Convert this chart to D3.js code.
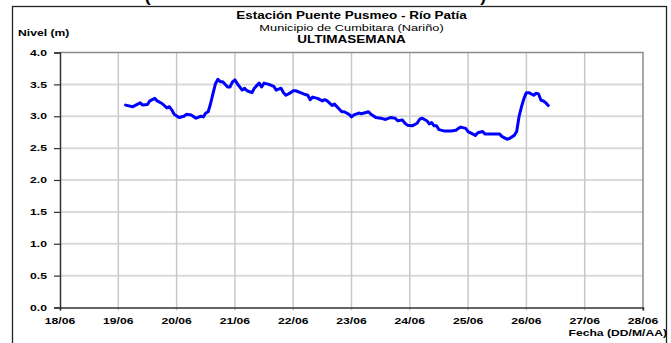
<!DOCTYPE html>
<html>
<head>
<meta charset="utf-8">
<script src="https://cdn.jsdelivr.net/npm/d3@7/dist/d3.min.js"></script>
<style>
  html, body { margin: 0; padding: 0; background: #fff; }
  svg { display: block; font-family: "Liberation Sans", Arial, sans-serif; }
</style>
</head>
<body>
<svg id="chart" width="671" height="343"></svg>
<script>
// Hourly water level readings, Puente Pusmeo station (Río Patía)
const fechas = [
  "19/06 03:00","19/06 06:00","19/06 09:00","19/06 10:00","19/06 12:00","19/06 13:00","19/06 15:00","19/06 16:00",
  "19/06 18:00","19/06 20:00","19/06 21:00","19/06 22:00","19/06 23:00","20/06 01:00","20/06 03:00","20/06 04:00",
  "20/06 06:00","20/06 08:00","20/06 10:00","20/06 11:00","20/06 12:00","20/06 13:00","20/06 14:00","20/06 15:00",
  "20/06 16:00","20/06 17:00","20/06 18:00","20/06 19:00","20/06 21:00","20/06 22:00","20/06 23:00","21/06 00:00",
  "21/06 01:00","21/06 03:00","21/06 04:00","21/06 05:00","21/06 07:00","21/06 08:00","21/06 10:00","21/06 11:00",
  "21/06 12:00","21/06 14:00","21/06 16:00","21/06 17:00","21/06 19:00","21/06 20:00","21/06 21:00","21/06 23:00",
  "22/06 00:00","22/06 01:00","22/06 03:00","22/06 05:00","22/06 06:00","22/06 07:00","22/06 08:00","22/06 10:00",
  "22/06 12:00","22/06 13:00","22/06 14:00","22/06 16:00","22/06 17:00","22/06 19:00","22/06 20:00","22/06 21:00",
  "22/06 23:00","23/06 00:00","23/06 01:00","23/06 03:00","23/06 04:00","23/06 06:00","23/06 07:00","23/06 08:00",
  "23/06 10:00","23/06 12:00","23/06 14:00","23/06 16:00","23/06 18:00","23/06 19:00","23/06 21:00","23/06 22:00",
  "23/06 23:00","24/06 01:00","24/06 03:00","24/06 04:00","24/06 05:00","24/06 07:00","24/06 08:00","24/06 09:00",
  "24/06 10:00","24/06 11:00","24/06 12:00","24/06 14:00","24/06 17:00","24/06 19:00","24/06 20:00","24/06 21:00",
  "24/06 23:00","25/06 00:00","25/06 02:00","25/06 03:00","25/06 04:00","25/06 06:00","25/06 07:00","25/06 09:00",
  "25/06 11:00","25/06 13:00","25/06 14:00","25/06 16:00","25/06 17:00","25/06 19:00","25/06 20:00","25/06 21:00",
  "25/06 22:00","25/06 23:00","26/06 00:00","26/06 01:00","26/06 03:00","26/06 04:00","26/06 05:00","26/06 06:00",
  "26/06 07:00","26/06 08:00","26/06 09:00"
];
const niveles = [
  3.175,3.15,3.21,3.175,3.185,3.24,3.28,3.24,
  3.20,3.13,3.15,3.10,3.03,2.98,3.00,3.03,
  3.02,2.97,3.00,2.99,3.05,3.07,3.20,3.36,
  3.51,3.58,3.54,3.54,3.46,3.46,3.54,3.57,
  3.51,3.41,3.44,3.40,3.37,3.44,3.52,3.46,
  3.52,3.50,3.47,3.41,3.44,3.37,3.33,3.37,
  3.40,3.40,3.37,3.34,3.33,3.26,3.30,3.28,
  3.24,3.26,3.24,3.17,3.19,3.11,3.07,3.07,
  3.03,2.99,3.02,3.05,3.04,3.06,3.07,3.03,
  2.98,2.97,2.95,2.98,2.97,2.93,2.94,2.89,
  2.86,2.85,2.89,2.95,2.97,2.93,2.88,2.90,
  2.85,2.85,2.79,2.77,2.77,2.78,2.81,2.83,
  2.81,2.76,2.72,2.70,2.74,2.76,2.72,2.72,
  2.72,2.72,2.68,2.64,2.65,2.70,2.76,3.00,
  3.15,3.28,3.37,3.37,3.33,3.36,3.35,3.25,
  3.24,3.21,3.17
];
const diasEje = ["18/06","19/06","20/06","21/06","22/06","23/06","24/06","25/06","26/06","27/06","28/06"];
const nivelesEje = [0.0, 0.5, 1.0, 1.5, 2.0, 2.5, 3.0, 3.5, 4.0];

const titulo = "Estación Puente Pusmeo - Río Patía";
const subtitulo = "Municipio de Cumbitara (Nariño)";
const periodo = "ULTIMASEMANA";
const tituloY = "Nivel (m)";
const tituloX = "Fecha (DD/M/AA)";

const parse = d3.timeParse("%d/%m %H:%M");
const parseDia = d3.timeParse("%d/%m");
const datos = fechas.map((f, i) => ({ t: parse(f), v: niveles[i] }));
const dias = diasEje.map(d => parseDia(d));

const svg = d3.select("#chart");
const m = { left: 60, right: 643, top: 52.5, bottom: 307.5 };
const SX = 1.35; // horizontal stretch of the lettering

const x = d3.scaleTime().domain([dias[0], dias[dias.length - 1]]).range([m.left, m.right]);
const y = d3.scaleLinear().domain([0, 4]).range([m.bottom, m.top]);

function label(px, py, str, opts) {
  const o = Object.assign({ size: 9, weight: "bold", anchor: "middle" }, opts || {});
  return svg.append("text")
    .attr("transform", `translate(${px},${py}) scale(${SX},1)`)
    .attr("text-anchor", o.anchor)
    .attr("font-size", o.size)
    .attr("font-weight", o.weight)
    .attr("fill", "#000")
    .text(str);
}

// outer chart frame
svg.append("rect")
  .attr("x", 12.5).attr("y", 6.5).attr("width", 654).attr("height", 350)
  .attr("fill", "none").attr("stroke", "#222").attr("stroke-width", 1.3);

// heading above the frame, clipped by the page top
label(148, 2, "(", { size: 13 });
label(483, 2, ")", { size: 13 });

// horizontal gridlines
svg.append("g").selectAll("line")
  .data(nivelesEje.filter(v => v > 0 && v < 4))
  .join("line")
  .attr("x1", m.left).attr("x2", m.right)
  .attr("y1", d => y(d)).attr("y2", d => y(d))
  .attr("stroke", "#d9d9d9").attr("stroke-width", 2);

// vertical gridlines (extend slightly below the axis as tick marks)
svg.append("g").selectAll("line")
  .data(dias.slice(1, -1))
  .join("line")
  .attr("x1", d => x(d)).attr("x2", d => x(d))
  .attr("y1", m.top).attr("y2", m.bottom + 3)
  .attr("stroke", "#c8c8c8").attr("stroke-width", 1.5);

// top and right plot borders
svg.append("path")
  .attr("d", `M${m.left},${m.top}H${m.right}V${m.bottom + 3}`)
  .attr("fill", "none").attr("stroke", "#8c8c8c").attr("stroke-width", 1.5);

// y axis
const yAxis = svg.append("g")
  .attr("transform", `translate(${m.left},0)`)
  .call(d3.axisLeft(y).tickValues(nivelesEje).tickSize(6).tickFormat(""));
yAxis.select(".domain").attr("stroke", "#333").attr("stroke-width", 1.5);
yAxis.selectAll(".tick line").attr("stroke", "#333").attr("stroke-width", 1.2);

// x axis
const xAxis = svg.append("g")
  .attr("transform", `translate(0,${m.bottom})`)
  .call(d3.axisBottom(x).tickValues([dias[0]]).tickSize(3).tickFormat(""));
xAxis.select(".domain").attr("stroke", "#333").attr("stroke-width", 1.5);
xAxis.selectAll(".tick line").attr("stroke", "#333").attr("stroke-width", 1.2);

// tick labels
nivelesEje.forEach(v => label(47, y(v) + 3.2, d3.format(".1f")(v), { anchor: "end" }));
dias.forEach((d, i) => label(x(d), 323.5, diasEje[i]));

// titles
label((m.left + m.right) / 2, 18.5, titulo, { size: 10 });
label((m.left + m.right) / 2, 30.5, subtitulo, { size: 9.5, weight: "normal" });
label((m.left + m.right) / 2, 42.5, periodo, { size: 10 });
label(18, 36, tituloY, { anchor: "start" });
label(667, 336, tituloX, { anchor: "end" });

// level series
svg.append("path")
  .datum(datos)
  .attr("fill", "none")
  .attr("stroke", "#0000ff")
  .attr("stroke-width", 3)
  .attr("stroke-linejoin", "round")
  .attr("stroke-linecap", "round")
  .attr("d", d3.line().x(d => x(d.t)).y(d => y(d.v)));
</script>
</body>
</html>
